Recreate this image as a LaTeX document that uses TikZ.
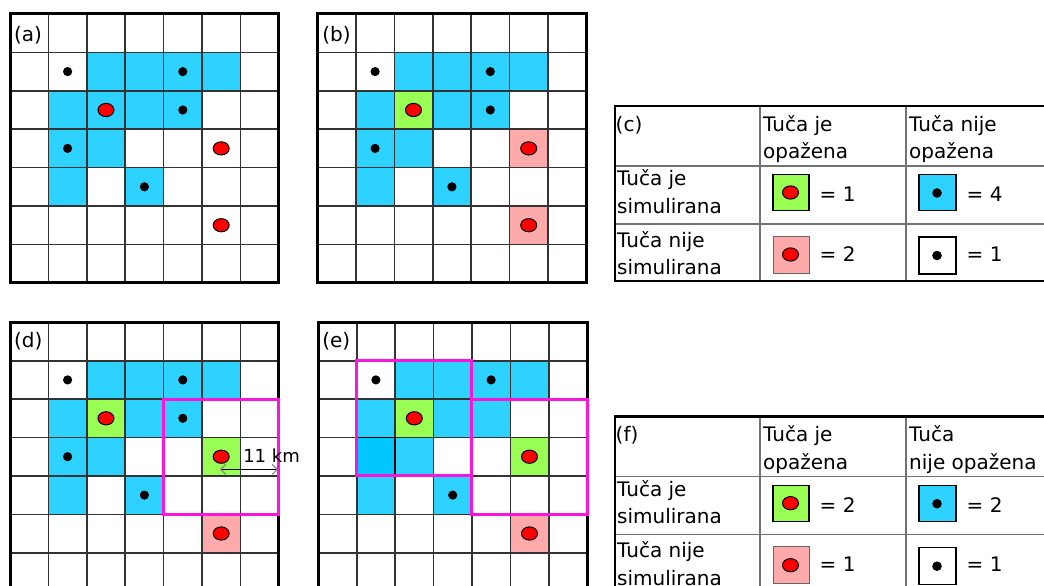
\documentclass[tikz,border=0pt]{standalone}
\usepackage{fontspec}
\setmainfont{DejaVu Sans}
\usetikzlibrary{arrows.meta}
\definecolor{cblue}{RGB}{45,210,255}
\definecolor{cdblue}{RGB}{0,200,255}
\definecolor{cgreen}{RGB}{153,255,85}
\definecolor{cpink}{RGB}{255,170,170}
\definecolor{cred}{RGB}{255,0,0}
\definecolor{cmag}{RGB}{250,20,220}
\tikzset{
  gridline/.style={line width=1.6pt, draw=black!80},
  gridframe/.style={line width=3pt, draw=black},
  reddotstyle/.style={fill=cred, draw=black, line width=1pt},
  magframe/.style={draw=cmag, line width=3pt},
  txt/.style={font=\fontsize{20}{27.5}\selectfont, inner sep=0pt, anchor=base west, align=left},
  tline/.style={draw=black!55, line width=1.5pt},
  tframe/.style={draw=black, line width=2.6pt},
  legsq/.style={draw=black, line width=1.2pt},
}
\newcommand\cellfill[3]{\fill[#1] (#2,#3) rectangle ++(1,1);}
\newcommand\blackdot[2]{\fill[black] ({#1+0.5},{#2+0.5}) circle[radius=4.6pt];}
\newcommand\reddot[2]{\filldraw[reddotstyle] ({#1+0.5},{#2+0.5}) ellipse[x radius=8pt,y radius=6.6pt];}
\newcommand\gridlines{%
  \foreach \i in {1,...,6}{\draw[gridline] (\i,0) -- (\i,7); \draw[gridline] (0,\i) -- (7,\i);}
  \draw[gridframe] (0,0) rectangle (7,7);}
\newcommand\commonblue{%
  \foreach \c/\r in {2/1,3/1,4/1,5/1,1/2,3/2,4/2,1/3,2/3,1/4,3/4}{\cellfill{cblue}{\c}{\r}}}
\newcommand\tablelines{%
  \draw[tline] (615,166) -- (1050,166);
  \draw[tline] (615,224) -- (1050,224);
  \draw[tline] (760,106) -- (760,281);
  \draw[tline] (906,106) -- (906,281);
  \draw[tframe] (1050,106) -- (615,106) -- (615,281) -- (1050,281);
  \filldraw[legsq, fill=cgreen] (773,174.5) rectangle (809,210.5);
  \filldraw[reddotstyle] (790.5,192.5) ellipse[x radius=8pt,y radius=6.6pt];
  \filldraw[legsq, fill=cblue] (919,174.5) rectangle (956,210.5);
  \fill[black] (937,193) circle[radius=4.8pt];
  \filldraw[draw=black!60, line width=1pt, fill=cpink] (773,236) rectangle (809,273);
  \filldraw[reddotstyle] (790.5,254.5) ellipse[x radius=8pt,y radius=6.6pt];
  \filldraw[legsq, fill=white] (919,237) rectangle (956,274);
  \fill[black] (937,255.5) circle[radius=4.8pt];}
\begin{document}
\begin{tikzpicture}[x=1pt,y=-1pt]
\useasboundingbox (0,0) rectangle (1044,586);
\clip (0,0) rectangle (1044,586);
\fill[white] (0,0) rectangle (1044,586);
% (a)
\begin{scope}[shift={(10,14)}, x=38.4pt, y=-38.4pt]
  \commonblue \cellfill{cblue}{2}{2}
  \gridlines
  \blackdot{1}{1}\blackdot{4}{1}\blackdot{4}{2}\blackdot{1}{3}\blackdot{3}{4}
  \reddot{2}{2}\reddot{5}{3}\reddot{5}{5}
  \node[txt] (labA) at (0.1,0.72) {(a)};
\end{scope}
% (b)
\begin{scope}[shift={(317.5,14)}, x=38.4pt, y=-38.4pt]
  \commonblue \cellfill{cgreen}{2}{2} \cellfill{cpink}{5}{3} \cellfill{cpink}{5}{5}
  \gridlines
  \blackdot{1}{1}\blackdot{4}{1}\blackdot{4}{2}\blackdot{1}{3}\blackdot{3}{4}
  \reddot{2}{2}\reddot{5}{3}\reddot{5}{5}
  \node[txt] (labB) at (0.12,0.72) {(b)};
\end{scope}
% (d)
\begin{scope}[shift={(10,322.3)}, x=38.4pt, y=-38.4pt]
  \commonblue \cellfill{cgreen}{2}{2} \cellfill{cgreen}{5}{3} \cellfill{cpink}{5}{5}
  \gridlines
  \blackdot{1}{1}\blackdot{4}{1}\blackdot{4}{2}\blackdot{1}{3}\blackdot{3}{4}
  \reddot{2}{2}\reddot{5}{3}\reddot{5}{5}
  \draw[magframe] (4,2) rectangle (7,5);
  \coordinate (arrL) at (5.47,3.83);
  \coordinate (arrR) at (6.98,3.83);
  \draw[draw=black, line width=1.4pt, {Straight Barb[color=gray,length=5pt,width=10pt,line width=1pt]}-{Straight Barb[color=gray,length=5pt,width=10pt,line width=1pt]}] (arrL) -- (arrR);
  \node[font=\fontsize{18}{22}\selectfont, inner sep=0pt, anchor=base west] (km) at (6.07,3.66) {11 km};
  \node[txt] (labD) at (0.1,0.65) {(d)};
\end{scope}
% (e)
\begin{scope}[shift={(318.3,322.3)}, x=38.4pt, y=-38.4pt]
  \commonblue \cellfill{cgreen}{2}{2} \cellfill{cgreen}{5}{3} \cellfill{cpink}{5}{5}
  \cellfill{cdblue}{1}{3}
  \gridlines
  \draw[black, line width=1.8pt] (1,3) rectangle (2,4);
  \blackdot{1}{1}\blackdot{4}{1}\blackdot{3}{4}
  \reddot{2}{2}\reddot{5}{3}\reddot{5}{5}
  \draw[magframe] (1,1) rectangle (4,4);
  \draw[magframe] (4,2) rectangle (7,5);
  \node[txt] (labE) at (0.1,0.65) {(e)};
\end{scope}
% (c)
\begin{scope}
  \tablelines
  \node[txt] (cHead) at (615.5,131) {(c)};
  \node[txt] (cObs) at (763,158.5) {Tuča je\\opažena};
  \node[txt] (cNobs) at (909,158.5) {Tuča nije\\opažena};
  \node[txt] (cSim) at (617,213) {Tuča je\\simulirana};
  \node[txt] (cNsim) at (617,274.5) {Tuča nije\\simulirana};
  \node[txt] (cHit) at (819.5,201.5) {= 1};
  \node[txt] (cFa) at (966.5,201.5) {= 4};
  \node[txt] (cMiss) at (819.5,261) {= 2};
  \node[txt] (cCn) at (966.5,261) {= 1};
\end{scope}
% (f)
\begin{scope}[shift={(0,310.7)}]
  \tablelines
  \node[txt] (fHead) at (615.5,131) {(f)};
  \node[txt] (fObs) at (763,158.5) {Tuča je\\opažena};
  \node[txt] (fNobs) at (909,158.5) {Tuča\\nije opažena};
  \node[txt] (fSim) at (617,213) {Tuča je\\simulirana};
  \node[txt] (fNsim) at (617,274.5) {Tuča nije\\simulirana};
  \node[txt] (fHit) at (819.5,201.5) {= 2};
  \node[txt] (fFa) at (966.5,201.5) {= 2};
  \node[txt] (fMiss) at (819.5,261) {= 1};
  \node[txt] (fCn) at (966.5,261) {= 1};
\end{scope}
\end{tikzpicture}
\end{document}
